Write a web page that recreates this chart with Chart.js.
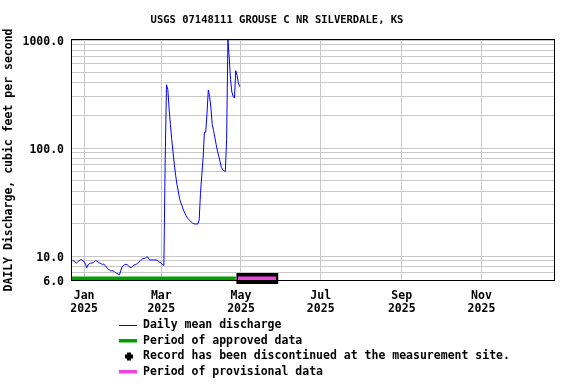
<!DOCTYPE html>
<html>
<head>
<meta charset="utf-8">
<script src="https://cdn.jsdelivr.net/npm/chart.js@4/dist/chart.umd.min.js"></script>
<style>
  html, body { margin: 0; padding: 0; background: #ffffff; }
  #wrap { width: 576px; height: 384px; }
</style>
</head>
<body>
<div id="wrap"><canvas id="c" width="576" height="384"></canvas></div>
<script>
// ---- data (day 0 = 2025-01-01) ----
const titleText = "USGS 07148111 GROUSE C NR SILVERDALE, KS";
const yAxisTitle = "DAILY Discharge, cubic feet per second";
const firstDay = -9; // 2024-12-23
const dailyDischarge = [
  9.1, 9.0, 8.8, 8.6, 8.8, 9.0, 9.2, 9.3, 9.0,
  8.9, 8.4, 7.8, 8.3, 8.5, 8.6, 8.6, 8.7, 8.9, 9.1,
  8.9, 8.7, 8.6, 8.5, 8.3, 8.4, 8.2, 7.9, 7.6, 7.5,
  7.3, 7.3, 7.3, 7.2, 7.0, 6.9, 6.8, 6.7, 7.3, 7.9,
  8.2, 8.3, 8.4, 8.3, 8.1, 7.9, 7.8, 8.0, 8.2, 8.3,
  8.4, 8.6, 8.8, 9.1, 9.3, 9.5, 9.5, 9.6, 9.8, 9.7,
  9.2, 9.2, 9.2, 9.2, 9.2, 9.2, 9.1, 8.9, 8.7, 8.6,
  8.3, 8.2, 78, 385, 350, 230, 165, 120, 92, 70,
  56, 46, 40, 34, 31, 29, 26.5, 25, 23.6, 22.6,
  21.8, 21.3, 20.6, 20.1, 19.9, 19.8, 19.8, 19.8, 21.5, 38,
  56, 80, 140, 140, 210, 345, 300, 235, 165, 145,
  125, 108, 94, 84, 75, 66, 63, 61.5, 60.5, 120,
  1000, 680, 430, 330, 300, 290, 520, 470, 400, 370
];
const approvedPeriod = [-9.3, 116.0];
const provisionalPeriod = [117.7, 146.8];
const discontinuedMark = [116.5, 148.5];
const xMin = -9.3, xMax = 359.5;
const xTickDays = [0, 59, 120, 181, 243, 304];
const xTickLabels = [["Jan","2025"],["Mar","2025"],["May","2025"],["Jul","2025"],["Sep","2025"],["Nov","2025"]];
const yMin = 6, yMax = 1000;
const yGridValues = [6,7,8,9,10,20,30,40,50,60,70,80,90,100,200,300,400,500,600,700,800,900,1000];
const yLabelValues = [6, 10, 100, 1000];
const yLabelTexts = ["6.0", "10.0", "100.0", "1000.0"];
const legendLabels = [
  "Daily mean discharge",
  "Period of approved data",
  "Record has been discontinued at the measurement site.",
  "Period of provisional data"
];

// ---- styles ----
const FONT = '"DejaVu Sans Mono", "Liberation Mono", monospace';
const lineColor = '#0000ff';
const approvedColor = '#00a000';
const provisionalColor = '#ee44dd';
const gridColor = '#c8c8c8';

const points = dailyDischarge.map((v, i) => ({ x: firstDay + i, y: v }));

const overlayPlugin = {
  id: 'overlay',
  afterDatasetsDraw(chart) {
    const ctx = chart.ctx;
    const xs = chart.scales.x;
    const a = chart.chartArea;
    ctx.save();
    // approved period bar
    ctx.fillStyle = approvedColor;
    const ax0 = Math.max(a.left, xs.getPixelForValue(approvedPeriod[0]));
    const ax1 = xs.getPixelForValue(approvedPeriod[1]);
    ctx.fillRect(ax0, a.bottom - 3.5, ax1 - ax0, 3.5);
    // discontinued marker (black) + provisional
    const dx0 = xs.getPixelForValue(discontinuedMark[0]);
    const dx1 = xs.getPixelForValue(discontinuedMark[1]);
    ctx.fillStyle = '#000000';
    ctx.fillRect(dx0, a.bottom - 7, dx1 - dx0, 11);
    const px0 = xs.getPixelForValue(provisionalPeriod[0]);
    const px1 = xs.getPixelForValue(provisionalPeriod[1]);
    ctx.fillStyle = provisionalColor;
    ctx.fillRect(px0, a.bottom - 3.5, px1 - px0, 3.5);
    // frame
    ctx.strokeStyle = '#000000';
    ctx.lineWidth = 1;
    ctx.strokeRect(Math.round(a.left) - 0.5, Math.round(a.top) - 0.5,
                   Math.round(a.right) - Math.round(a.left) + 1,
                   Math.round(a.bottom) - Math.round(a.top) + 1);
    ctx.restore();
  },
  afterDraw(chart) {
    const ctx = chart.ctx;
    ctx.save();
    ctx.font = 'bold 11.5px ' + FONT;
    ctx.textBaseline = 'middle';
    ctx.textAlign = 'left';
    ctx.fillStyle = '#000000';
    const rowY = [325, 341, 356.5, 372];
    const sx0 = 119, sx1 = 137, tx = 143;
    // symbols
    ctx.strokeStyle = lineColor; ctx.lineWidth = 1;
    ctx.beginPath(); ctx.moveTo(sx0, rowY[0] + 0.5); ctx.lineTo(sx1, rowY[0] + 0.5); ctx.stroke();
    ctx.fillStyle = approvedColor; ctx.fillRect(sx0, rowY[1] - 2, sx1 - sx0, 3.5);
    ctx.fillStyle = '#000000';
    ctx.fillRect(125, rowY[2] - 2, 8, 4);
    ctx.fillRect(127, rowY[2] - 4, 4, 8);
    ctx.fillStyle = provisionalColor; ctx.fillRect(sx0, rowY[3] - 2, sx1 - sx0, 3.5);
    ctx.fillStyle = '#000000';
    legendLabels.forEach((t, i) => ctx.fillText(t, tx, rowY[i]));
    ctx.restore();
  }
};

new Chart(document.getElementById('c'), {
  type: 'line',
  data: {
    datasets: [{
      data: points,
      borderColor: lineColor,
      borderWidth: 1,
      pointRadius: 0,
      tension: 0,
      fill: false
    }]
  },
  options: {
    responsive: false,
    animation: false,
    devicePixelRatio: 1,
    layout: { padding: { left: 0, right: 22, top: 0, bottom: 0 } },
    plugins: {
      legend: { display: false },
      tooltip: { enabled: false },
      title: {
        display: true,
        text: titleText,
        color: '#000000',
        font: { family: FONT, size: 10.5, weight: 'bold', lineHeight: 1.2 },
        padding: { top: 14, bottom: 13.4 }
      }
    },
    scales: {
      x: {
        type: 'linear',
        position: 'bottom',
        min: xMin, max: xMax,
        bounds: 'data',
        grid: { color: gridColor, drawTicks: false, lineWidth: 1 },
        border: { display: false },
        ticks: {
          autoSkip: false, maxRotation: 0, minRotation: 0,
          padding: 9,
          color: '#000000',
          font: { family: FONT, size: 11.5, weight: 'bold', lineHeight: 1.15 },
          callback: (v) => { const i = xTickDays.indexOf(v); return i >= 0 ? xTickLabels[i] : ''; }
        },
        afterBuildTicks: (s) => { s.ticks = xTickDays.map(v => ({ value: v })); },
        afterFit: (s) => { s.height = 104; }
      },
      y: {
        type: 'logarithmic',
        position: 'left',
        min: yMin, max: yMax,
        bounds: 'data',
        grid: { color: gridColor, drawTicks: false, lineWidth: 1 },
        border: { display: false },
        title: {
          display: true,
          text: yAxisTitle,
          color: '#000000',
          font: { family: FONT, size: 11.5, weight: 'bold', lineHeight: 1.2 },
          padding: { top: 2, bottom: 0 }
        },
        ticks: {
          autoSkip: false,
          padding: 8,
          labelOffset: 2,
          color: '#000000',
          font: { family: FONT, size: 11.5, weight: 'bold' },
          callback: (v) => { const i = yLabelValues.indexOf(v); return i >= 0 ? yLabelTexts[i] : ''; }
        },
        afterBuildTicks: (s) => { s.ticks = yGridValues.map(v => ({ value: v })); },
        afterFit: (s) => { s.width = 72; }
      }
    }
  },
  plugins: [overlayPlugin]
});
</script>
</body>
</html>
